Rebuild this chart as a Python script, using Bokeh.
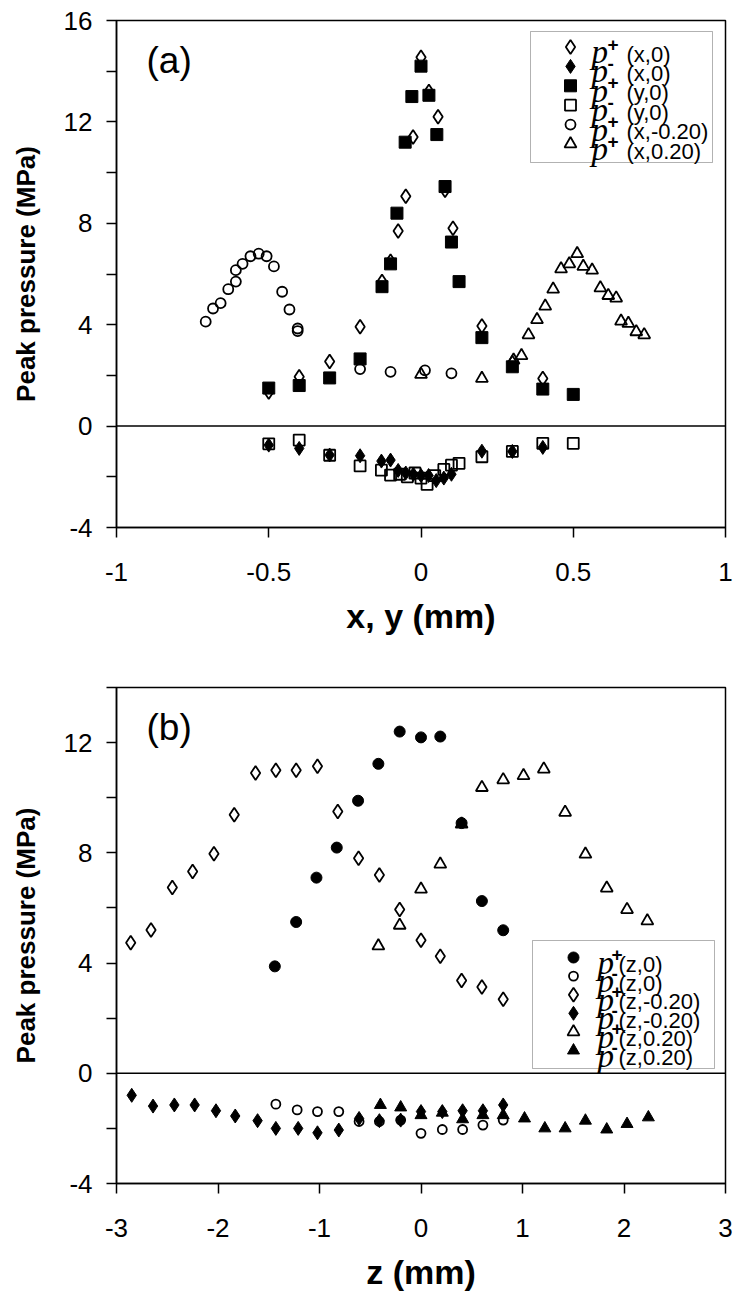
from bokeh.plotting import figure
from bokeh.layouts import column
from bokeh.models import Range1d, FixedTicker, Span, Label, BoxAnnotation
from bokeh.core.properties import value
from bokeh.embed import file_html
from bokeh.resources import INLINE

# ---------------- data: panel (a) ----------------
pxa_x = [-0.5, -0.4, -0.3, -0.2, -0.128, -0.1, -0.075, -0.05, -0.026, 0.0, 0.026, 0.056, 0.079, 0.105, 0.2, 0.3, 0.4]
pxa_v = [1.35, 1.95, 2.55, 3.92, 5.7, 6.5, 7.7, 9.07, 11.4, 14.55, 13.2, 12.2, 9.3, 7.8, 3.95, 2.5, 1.88]

nxa_x = [-0.5, -0.4, -0.3, -0.2, -0.13, -0.1, -0.075, -0.05, -0.025, 0.0, 0.025, 0.05, 0.075, 0.1, 0.2, 0.3, 0.4]
nxa_v = [-0.75, -0.88, -1.14, -1.17, -1.38, -1.34, -1.75, -1.85, -1.9, -1.95, -1.95, -2.15, -2.05, -1.9, -0.99, -1.0, -0.84]

pya_x = [-0.5, -0.4, -0.3, -0.2, -0.128, -0.1, -0.079, -0.052, -0.03, 0.0, 0.026, 0.052, 0.079, 0.1, 0.125, 0.2, 0.3, 0.4, 0.5]
pya_v = [1.5, 1.6, 1.9, 2.65, 5.5, 6.4, 8.4, 11.2, 13.0, 14.2, 13.05, 11.5, 9.45, 7.26, 5.7, 3.49, 2.34, 1.46, 1.25]

nya_x = [-0.5, -0.4, -0.3, -0.2, -0.13, -0.1, -0.07, -0.045, -0.02, 0.0, 0.02, 0.045, 0.075, 0.1, 0.125, 0.2, 0.3, 0.4, 0.5]
nya_v = [-0.7, -0.55, -1.15, -1.57, -1.74, -1.93, -1.9, -2.0, -1.85, -2.05, -2.3, -1.95, -1.71, -1.54, -1.47, -1.21, -1.0, -0.68, -0.68]

pxm_x = [-0.707, -0.683, -0.658, -0.633, -0.608, -0.608, -0.586, -0.56, -0.533, -0.507, -0.483, -0.456, -0.432, -0.405, -0.405, -0.2, -0.1, 0.013, 0.1]
pxm_v = [4.12, 4.64, 4.85, 5.4, 5.7, 6.15, 6.4, 6.7, 6.8, 6.7, 6.3, 5.3, 4.6, 3.85, 3.75, 2.25, 2.14, 2.2, 2.08]

pxp_x = [0.0, 0.2, 0.304, 0.33, 0.353, 0.381, 0.408, 0.434, 0.46, 0.487, 0.513, 0.533, 0.562, 0.589, 0.615, 0.641, 0.657, 0.681, 0.707, 0.733]
pxp_v = [2.04, 1.88, 2.6, 2.78, 3.6, 4.2, 4.73, 5.4, 6.2, 6.4, 6.8, 6.3, 6.15, 5.45, 5.15, 5.05, 4.14, 4.05, 3.72, 3.6]

# ---------------- data: panel (b) ----------------
pz0_z = [-1.44, -1.23, -1.03, -0.83, -0.62, -0.42, -0.21, 0.0, 0.19, 0.4, 0.6, 0.81]
pz0_v = [3.88, 5.49, 7.1, 8.19, 9.89, 11.23, 12.4, 12.19, 12.22, 9.08, 6.25, 5.19]

nz0_z = [-1.43, -1.22, -1.02, -0.81, -0.61, -0.41, -0.2, 0.0, 0.21, 0.41, 0.61, 0.81]
nz0_v = [-1.12, -1.33, -1.39, -1.39, -1.75, -1.75, -1.7, -2.18, -2.04, -2.04, -1.88, -1.7]

pzm_z = [-2.86, -2.66, -2.45, -2.25, -2.04, -1.84, -1.63, -1.43, -1.23, -1.02, -0.82, -0.615, -0.41, -0.21, 0.0, 0.19, 0.4, 0.6, 0.81]
pzm_v = [4.74, 5.2, 6.74, 7.32, 7.97, 9.38, 10.9, 11.0, 11.0, 11.14, 9.5, 7.8, 7.2, 5.94, 4.83, 4.25, 3.37, 3.13, 2.69]

nzm_z = [-2.85, -2.64, -2.43, -2.23, -2.02, -1.83, -1.61, -1.43, -1.21, -1.02, -0.81, -0.61, -0.41, -0.2, 0.0, 0.21, 0.41, 0.61, 0.81]
nzm_v = [-0.8, -1.19, -1.15, -1.15, -1.36, -1.55, -1.72, -2.0, -2.0, -2.16, -2.06, -1.64, -1.72, -1.7, -1.39, -1.39, -1.36, -1.36, -1.15]

pzp_z = [-0.42, -0.21, 0.0, 0.19, 0.4, 0.6, 0.81, 1.01, 1.21, 1.42, 1.62, 1.83, 2.03, 2.23]
pzp_v = [4.62, 5.37, 6.68, 7.59, 9.04, 10.37, 10.65, 10.8, 11.04, 9.47, 7.95, 6.72, 5.94, 5.53]

nzp_z = [-0.4, -0.2, 0.0, 0.21, 0.41, 0.61, 0.81, 1.02, 1.22, 1.42, 1.62, 1.83, 2.03, 2.24]
nzp_v = [-1.15, -1.24, -1.52, -1.43, -1.67, -1.52, -1.52, -1.64, -2.0, -2.0, -1.72, -2.04, -1.84, -1.6]

# tick / legend text
xa_ticks = [-1, -0.5, 0, 0.5, 1]
xa_labels = ["-1", "-0.5", "0", "0.5", "1"]
ya_ticks = [-4, 0, 4, 8, 12, 16]
ya_labels = ["-4", "0", "4", "8", "12", "16"]
ya_minor = [-2, 2, 6, 10, 14]
xb_ticks = [-3, -2, -1, 0, 1, 2, 3]
xb_labels = ["-3", "-2", "-1", "0", "1", "2", "3"]
yb_ticks = [-4, 0, 4, 8, 12]
yb_labels = ["-4", "0", "4", "8", "12"]
yb_minor = [-2, 2, 6, 10, 14]

leg_a_signs = ["+", "-", "+", "-", "+", "+"]
leg_a_text = ["(x,0)", "(x,0)", "(y,0)", "(y,0)", "(x,-0.20)", "(x,0.20)"]
leg_b_signs = ["+", "-", "+", "-", "+", "-"]
leg_b_text = ["(z,0)", "(z,0)", "(z,-0.20)", "(z,-0.20)", "(z,0.20)", "(z,0.20)"]

SANS = "Liberation Sans"
SERIF = "Liberation Serif"
TICK_PT = "26px"


def make_fig(xr, yr, fh, bt, bb, xt, xl, yt, yl, ym, xlabel):
    p = figure(frame_width=609, frame_height=fh,
               min_border_left=116, min_border_right=17,
               min_border_top=bt, min_border_bottom=bb,
               x_range=Range1d(*xr), y_range=Range1d(*yr),
               output_backend="svg", toolbar_location=None, tools="")
    p.grid.visible = False
    p.outline_line_color = "black"
    p.outline_line_width = 1.5
    p.outline_line_alpha = 1.0
    p.background_fill_color = "white"
    p.border_fill_color = "white"
    p.xaxis.ticker = FixedTicker(ticks=xt, minor_ticks=[])
    p.yaxis.ticker = FixedTicker(ticks=yt, minor_ticks=ym)
    p.xaxis.major_label_overrides = dict(zip(xt, xl))
    p.yaxis.major_label_overrides = dict(zip(yt, yl))
    for ax in (p.xaxis[0], p.yaxis[0]):
        ax.axis_line_color = "black"
        ax.axis_line_width = 1.5
        ax.major_tick_line_color = "black"
        ax.major_tick_line_width = 1.5
        ax.minor_tick_line_color = "black"
        ax.minor_tick_line_width = 1.5
        ax.major_tick_out = 10
        ax.major_tick_in = 0
        ax.minor_tick_out = 10
        ax.minor_tick_in = 0
        ax.major_label_text_font = SANS
        ax.major_label_text_font_size = TICK_PT
        ax.major_label_text_color = "black"
        ax.axis_label_text_font = SANS
        ax.axis_label_text_font_style = "bold"
        ax.axis_label_text_color = "black"
    p.xaxis.axis_label = xlabel
    p.yaxis.axis_label = "Peak pressure (MPa)"
    p.xaxis.axis_label_text_font_size = "34px"
    p.yaxis.axis_label_text_font_size = "26px"
    p.xaxis.major_label_standoff = 25
    p.xaxis.axis_label_standoff = 13
    p.yaxis.major_label_standoff = 14
    p.yaxis.axis_label_standoff = 20
    p.add_layout(Span(location=0, dimension="width", line_color="black", line_width=1.5))
    return p


def open_m(p, x, y, marker, size):
    p.scatter(x, y, marker=marker, size=size, fill_color=None,
              line_color="black", line_width=1.8)


def fill_m(p, x, y, marker, size):
    p.scatter(x, y, marker=marker, size=size, fill_color="black",
              line_color="black", line_width=1)


def add_legend(p, conv, box, rows, mx, px_p, px_s, px_t, markers, signs, texts, panel_label, lab_pos):
    cx, cy = conv
    l, t, r, b = box
    p.add_layout(BoxAnnotation(left=cx(l), right=cx(r), top=cy(t), bottom=cy(b),
                               fill_alpha=0, line_color="black", line_width=1))
    for (marker, filled, size), ry in zip(markers, rows):
        if filled:
            fill_m(p, [cx(mx)], [cy(ry)], marker, size)
        else:
            open_m(p, [cx(mx)], [cy(ry)], marker, size)
    p.text([cx(px_p)] * len(rows), [cy(ry + 5) for ry in rows], text=["p"] * len(rows),
           text_font=value(SERIF), text_font_style="italic", text_font_size="33px",
           text_baseline="alphabetic", text_align="left", text_color="black")
    p.text([cx(px_s)] * len(rows), [cy(ry - 3) for ry in rows], text=signs,
           text_font=value(SANS), text_font_size="19px", text_font_style="bold",
           text_baseline="alphabetic", text_align="left", text_color="black")
    p.text([cx(px_t)] * len(rows), [cy(ry + 7) for ry in rows], text=texts,
           text_font=value(SANS), text_font_size="22px",
           text_baseline="alphabetic", text_align="left", text_color="black")
    lx, ly = lab_pos
    p.add_layout(Label(x=cx(lx), y=cy(ly), text=panel_label, text_font=SANS,
                       text_font_size="37px", text_baseline="top", text_color="black"))


# ---------------- panel (a) ----------------
FA_L, FA_T, FA_W, FA_H = 116, 20, 609, 507
XA = (-1, 1)
YA = (-4, 16)


def cxa(px):
    return XA[0] + (px - FA_L) * (XA[1] - XA[0]) / FA_W


def cya(py):
    return YA[1] - (py - FA_T) * (YA[1] - YA[0]) / FA_H


pa = make_fig(XA, YA, FA_H, 20, 133, xa_ticks, xa_labels, ya_ticks, ya_labels, ya_minor, "x, y (mm)")
open_m(pa, nya_x, nya_v, "square", 11)
open_m(pa, pxa_x, pxa_v, "diamond", 14)
open_m(pa, pxm_x, pxm_v, "circle", 10)
open_m(pa, pxp_x, pxp_v, "triangle", 12)
fill_m(pa, pya_x, pya_v, "square", 12)
fill_m(pa, nxa_x, nxa_v, "diamond", 14)

rows_a = [46.5 + 19.4 * i for i in range(6)]
markers_a = [("diamond", False, 14), ("diamond", True, 14), ("square", True, 12),
             ("square", False, 11), ("circle", False, 10), ("triangle", False, 12)]
add_legend(pa, (cxa, cya), (530, 31, 712, 162), rows_a, 570, 591, 607, 626,
           markers_a, leg_a_signs, leg_a_text, "(a)", (146, 39))

# ---------------- panel (b) ----------------
FIG_A_H = 20 + 507 + 133
FB_L, FB_T, FB_W, FB_H = 116, 687, 609, 496
XB = (-3, 3)
YB = (-4, 14)


def cxb(px):
    return XB[0] + (px - FB_L) * (XB[1] - XB[0]) / FB_W


def cyb(py):
    return YB[1] - (py - FB_T) * (YB[1] - YB[0]) / FB_H


pb = make_fig(XB, YB, FB_H, FB_T - FIG_A_H, 120, xb_ticks, xb_labels, yb_ticks, yb_labels, yb_minor, "z (mm)")
open_m(pb, pzp_z, pzp_v, "triangle", 12)
open_m(pb, pzm_z, pzm_v, "diamond", 14)
open_m(pb, nz0_z, nz0_v, "circle", 9)
fill_m(pb, pz0_z, pz0_v, "circle", 11)
fill_m(pb, nzm_z, nzm_v, "diamond", 14)
fill_m(pb, nzp_z, nzp_v, "triangle", 12)

rows_b = [957 + 18.6 * i for i in range(6)]
markers_b = [("circle", True, 11), ("circle", False, 9), ("diamond", False, 14),
             ("diamond", True, 14), ("triangle", False, 12), ("triangle", True, 12)]
add_legend(pb, (cxb, cyb), (532, 940, 714, 1068), rows_b, 573, 597, 611, 618,
           markers_b, leg_b_signs, leg_b_text, "(b)", (146, 706))

layout = column(pa, pb)
open("out.html", "w").write(file_html(layout, INLINE))
